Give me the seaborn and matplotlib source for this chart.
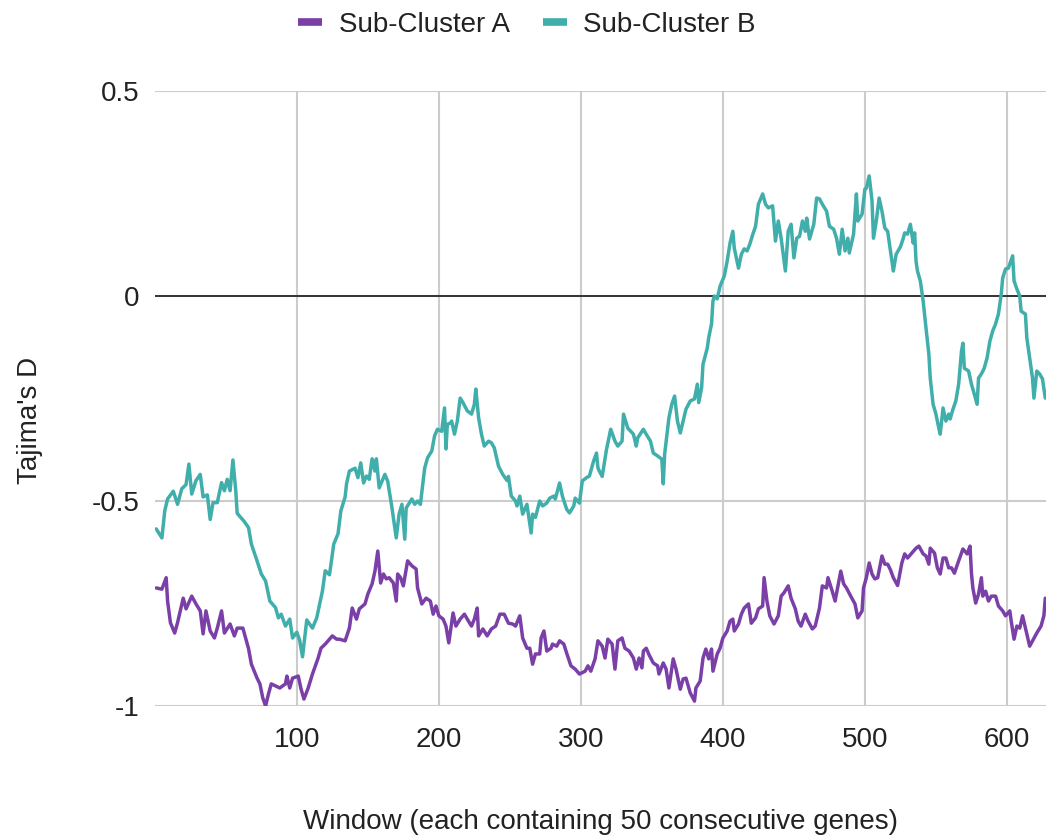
import matplotlib
matplotlib.use("Agg")
import matplotlib.pyplot as plt
from matplotlib.lines import Line2D
import pandas as pd
import seaborn as sns

# Tajima's D per sliding window (each window = 50 consecutive genes)
window_a = [1, 5, 8, 9, 11, 14, 16, 20, 22, 26, 29, 32, 34, 36, 39, 42, 44, 47, 49, 53,
            56, 58, 62, 66, 68, 72, 74, 76, 78, 80, 82, 85, 88, 92, 93, 95, 97, 101, 103, 105,
            108, 111, 115, 117, 120, 122, 125, 128, 130, 134, 137, 139, 142, 144, 148, 150, 153, 155, 157, 159,
            161, 163, 165, 168, 170, 171, 173, 175, 178, 181, 184, 185, 188, 191, 194, 196, 198, 200, 203, 205,
            207, 210, 212, 215, 218, 220, 223, 225, 227, 228, 231, 234, 237, 240, 243, 246, 249, 252, 254, 257,
            259, 262, 264, 266, 268, 271, 272, 274, 276, 279, 280, 283, 285, 288, 290, 293, 296, 299, 303, 305,
            307, 310, 312, 315, 317, 319, 322, 324, 326, 329, 331, 334, 337, 339, 341, 343, 344, 346, 348, 351,
            354, 355, 358, 360, 362, 365, 367, 370, 372, 374, 377, 380, 381, 384, 386, 388, 390, 392, 393, 396,
            398, 400, 403, 405, 407, 408, 411, 413, 415, 418, 420, 423, 425, 428, 429, 431, 433, 436, 439, 441,
            443, 446, 448, 451, 453, 455, 458, 460, 463, 465, 468, 470, 473, 474, 477, 479, 481, 483, 485, 487,
            490, 493, 495, 498, 499, 501, 503, 505, 507, 509, 512, 514, 516, 518, 520, 523, 526, 528, 530, 533,
            536, 538, 541, 543, 545, 546, 549, 551, 553, 555, 557, 559, 561, 563, 566, 569, 572, 574, 575, 576,
            578, 580, 582, 583, 585, 587, 589, 592, 594, 597, 599, 602, 603, 605, 607, 609, 611, 613, 616, 618,
            621, 624, 626, 627]
tajima_a = [-0.712, -0.715, -0.687, -0.744, -0.797, -0.822, -0.797, -0.737, -0.763, -0.732, -0.751, -0.768, -0.824, -0.768, -0.817, -0.834, -0.810, -0.768, -0.822, -0.800,
            -0.829, -0.810, -0.810, -0.860, -0.898, -0.932, -0.946, -0.980, -1.000, -0.971, -0.946, -0.951, -0.956, -0.946, -0.927, -0.956, -0.932, -0.927, -0.959, -0.983,
            -0.956, -0.922, -0.883, -0.859, -0.849, -0.841, -0.829, -0.837, -0.837, -0.841, -0.810, -0.761, -0.788, -0.763, -0.751, -0.727, -0.702, -0.671, -0.622, -0.700,
            -0.678, -0.690, -0.687, -0.700, -0.744, -0.678, -0.687, -0.707, -0.646, -0.658, -0.666, -0.712, -0.751, -0.737, -0.744, -0.776, -0.756, -0.780, -0.788, -0.805,
            -0.846, -0.773, -0.805, -0.788, -0.776, -0.788, -0.805, -0.788, -0.761, -0.829, -0.812, -0.829, -0.812, -0.805, -0.776, -0.776, -0.798, -0.800, -0.805, -0.780,
            -0.834, -0.859, -0.859, -0.898, -0.873, -0.873, -0.834, -0.817, -0.866, -0.859, -0.849, -0.854, -0.841, -0.849, -0.871, -0.902, -0.910, -0.922, -0.915, -0.902,
            -0.915, -0.885, -0.841, -0.854, -0.883, -0.837, -0.849, -0.910, -0.841, -0.834, -0.859, -0.866, -0.883, -0.910, -0.883, -0.907, -0.866, -0.859, -0.875, -0.895,
            -0.902, -0.922, -0.895, -0.910, -0.956, -0.885, -0.910, -0.959, -0.934, -0.932, -0.968, -0.988, -0.956, -0.939, -0.883, -0.861, -0.885, -0.861, -0.915, -0.873,
            -0.859, -0.834, -0.817, -0.793, -0.788, -0.817, -0.800, -0.776, -0.761, -0.751, -0.798, -0.785, -0.763, -0.756, -0.687, -0.744, -0.780, -0.800, -0.780, -0.732,
            -0.724, -0.707, -0.737, -0.763, -0.793, -0.805, -0.776, -0.793, -0.812, -0.805, -0.761, -0.707, -0.712, -0.687, -0.720, -0.744, -0.707, -0.671, -0.702, -0.712,
            -0.732, -0.751, -0.785, -0.768, -0.712, -0.687, -0.651, -0.678, -0.690, -0.687, -0.634, -0.654, -0.654, -0.668, -0.687, -0.706, -0.651, -0.629, -0.639, -0.627,
            -0.615, -0.610, -0.629, -0.634, -0.654, -0.615, -0.627, -0.663, -0.678, -0.639, -0.639, -0.663, -0.663, -0.676, -0.646, -0.617, -0.629, -0.610, -0.676, -0.712,
            -0.749, -0.727, -0.687, -0.732, -0.720, -0.744, -0.732, -0.732, -0.756, -0.768, -0.780, -0.768, -0.793, -0.837, -0.805, -0.810, -0.780, -0.810, -0.854, -0.841,
            -0.822, -0.805, -0.780, -0.737]

window_b = [1, 5, 7, 9, 13, 16, 19, 22, 24, 26, 29, 32, 34, 37, 39, 41, 44, 47, 49, 51,
            53, 55, 57, 58, 63, 66, 68, 72, 75, 78, 81, 85, 87, 89, 92, 95, 97, 100, 102, 104,
            107, 111, 114, 118, 120, 123, 126, 129, 131, 134, 135, 137, 141, 143, 145, 147, 149, 151, 153, 155,
            156, 158, 162, 164, 167, 170, 172, 174, 176, 177, 181, 183, 185, 187, 190, 192, 195, 197, 199, 202,
            204, 205, 206, 208, 209, 211, 213, 215, 217, 220, 223, 225, 226, 228, 230, 232, 235, 237, 239, 242,
            245, 248, 249, 251, 254, 255, 257, 259, 262, 265, 266, 268, 271, 273, 276, 278, 281, 282, 285, 287,
            290, 292, 295, 296, 299, 301, 304, 306, 309, 311, 312, 313, 315, 318, 321, 324, 326, 329, 330, 333,
            337, 339, 340, 344, 346, 349, 351, 354, 357, 358, 359, 362, 364, 366, 368, 370, 372, 374, 377, 380,
            382, 383, 385, 386, 389, 390, 392, 393, 394, 396, 398, 400, 401, 403, 405, 407, 408, 411, 413, 415,
            417, 419, 421, 423, 425, 428, 430, 432, 435, 437, 439, 441, 444, 446, 448, 450, 452, 454, 456, 458,
            459, 461, 464, 466, 468, 470, 473, 475, 478, 480, 482, 484, 486, 488, 489, 492, 494, 495, 498, 500,
            501, 503, 505, 506, 508, 510, 512, 514, 516, 518, 520, 522, 525, 527, 528, 530, 532, 534, 535, 536,
            537, 539, 541, 543, 545, 546, 548, 550, 552, 553, 555, 557, 559, 560, 562, 564, 566, 568, 569, 570,
            573, 575, 577, 579, 580, 582, 584, 586, 588, 590, 592, 594, 596, 597, 599, 601, 604, 605, 607, 609,
            610, 613, 614, 616, 618, 619, 621, 623, 625, 627]
tajima_b = [-0.568, -0.590, -0.524, -0.495, -0.476, -0.508, -0.470, -0.460, -0.410, -0.483, -0.450, -0.435, -0.490, -0.485, -0.545, -0.504, -0.504, -0.455, -0.475, -0.447,
            -0.475, -0.400, -0.475, -0.530, -0.550, -0.565, -0.605, -0.646, -0.678, -0.695, -0.744, -0.760, -0.785, -0.776, -0.805, -0.788, -0.834, -0.820, -0.840, -0.880,
            -0.790, -0.810, -0.785, -0.720, -0.670, -0.680, -0.605, -0.580, -0.524, -0.490, -0.458, -0.427, -0.420, -0.443, -0.407, -0.456, -0.439, -0.447, -0.397, -0.427,
            -0.397, -0.468, -0.435, -0.452, -0.517, -0.590, -0.532, -0.508, -0.593, -0.517, -0.495, -0.508, -0.500, -0.508, -0.420, -0.395, -0.378, -0.341, -0.325, -0.330,
            -0.273, -0.373, -0.313, -0.310, -0.305, -0.337, -0.305, -0.249, -0.260, -0.280, -0.288, -0.264, -0.227, -0.297, -0.337, -0.366, -0.354, -0.358, -0.370, -0.415,
            -0.435, -0.450, -0.440, -0.488, -0.500, -0.512, -0.488, -0.532, -0.508, -0.578, -0.532, -0.540, -0.500, -0.512, -0.505, -0.493, -0.488, -0.495, -0.456, -0.488,
            -0.520, -0.529, -0.512, -0.493, -0.505, -0.451, -0.443, -0.439, -0.402, -0.383, -0.419, -0.427, -0.440, -0.375, -0.325, -0.354, -0.366, -0.354, -0.288, -0.322,
            -0.337, -0.366, -0.346, -0.325, -0.337, -0.354, -0.383, -0.390, -0.398, -0.458, -0.385, -0.297, -0.264, -0.244, -0.305, -0.334, -0.305, -0.276, -0.256, -0.251,
            -0.215, -0.260, -0.224, -0.166, -0.127, -0.102, -0.068, -0.012, 0.000, -0.007, 0.024, 0.041, 0.049, 0.085, 0.129, 0.158, 0.117, 0.068, 0.102, 0.115,
            0.110, 0.127, 0.150, 0.170, 0.224, 0.249, 0.224, 0.215, 0.220, 0.134, 0.183, 0.141, 0.061, 0.158, 0.175, 0.093, 0.141, 0.146, 0.183, 0.158,
            0.190, 0.139, 0.175, 0.239, 0.237, 0.224, 0.207, 0.170, 0.163, 0.141, 0.102, 0.163, 0.110, 0.141, 0.105, 0.151, 0.249, 0.183, 0.200, 0.261,
            0.263, 0.293, 0.232, 0.141, 0.183, 0.239, 0.207, 0.166, 0.158, 0.110, 0.061, 0.102, 0.120, 0.141, 0.154, 0.151, 0.175, 0.129, 0.154, 0.085,
            0.061, 0.037, -0.012, -0.078, -0.141, -0.200, -0.264, -0.288, -0.322, -0.337, -0.273, -0.305, -0.288, -0.300, -0.276, -0.256, -0.215, -0.134, -0.115, -0.176,
            -0.183, -0.215, -0.239, -0.264, -0.200, -0.190, -0.176, -0.151, -0.110, -0.085, -0.068, -0.044, 0.005, 0.044, 0.066, 0.068, 0.098, 0.037, 0.017, 0.000,
            -0.037, -0.044, -0.102, -0.151, -0.200, -0.249, -0.183, -0.190, -0.202, -0.249]

series_names = ["Sub-Cluster A", "Sub-Cluster B"]
series_colors = ["#7b3fa8", "#40aeaa"]
x_ticks = [100, 200, 300, 400, 500, 600]
x_tick_labels = ["100", "200", "300", "400", "500", "600"]
y_ticks = [-1, -0.5, 0, 0.5]
y_tick_labels = ["-1", "-0.5", "0", "0.5"]

df = pd.concat([
    pd.DataFrame({"window": window_a, "D": tajima_a, "cluster": series_names[0]}),
    pd.DataFrame({"window": window_b, "D": tajima_b, "cluster": series_names[1]}),
])

sns.set_style("white")
plt.rcParams["font.family"] = ["Liberation Sans", "DejaVu Sans"]
plt.rcParams["axes.unicode_minus"] = False

FS = 20
TEXT = "#222222"

fig = plt.figure(figsize=(10.46, 8.39), dpi=100)
ax = fig.add_axes([0.148, 0.1585, 0.852, 0.733])

sns.lineplot(data=df, x="window", y="D", hue="cluster", hue_order=series_names,
             palette=series_colors, linewidth=2.5, legend=False, ax=ax, zorder=3)

ax.set_xlim(0, 627.5)
ax.set_ylim(-1, 0.5)
ax.set_xticks(x_ticks)
ax.set_xticklabels(x_tick_labels)
ax.set_yticks(y_ticks)
ax.set_yticklabels(y_tick_labels)
ax.tick_params(axis="both", length=0, labelsize=FS, colors=TEXT)
ax.tick_params(axis="x", pad=15)
ax.tick_params(axis="y", pad=11)

ax.set_axisbelow(True)
ax.grid(True, color="#cccccc", linewidth=1.5)
ax.axhline(0, color="#333333", linewidth=1.4, zorder=2)
for s in ax.spines.values():
    s.set_visible(False)

ax.set_xlabel("Window (each containing 50 consecutive genes)", fontsize=FS, color=TEXT)
ax.set_ylabel("Tajima's D", fontsize=FS, color=TEXT)
ax.xaxis.set_label_coords(0.5, -0.167)
ax.yaxis.set_label_coords(-0.125, 0.465)

handles = [Line2D([0], [0], color=c, linewidth=5.5, solid_capstyle="butt") for c in series_colors]
fig.legend(handles, series_names, loc="center", bbox_to_anchor=(0.504, 0.970),
           ncol=2, frameon=False, fontsize=FS, handlelength=0.85, handletextpad=0.6,
           columnspacing=1.2, labelcolor=TEXT)

fig.savefig("out.png", dpi=100)
